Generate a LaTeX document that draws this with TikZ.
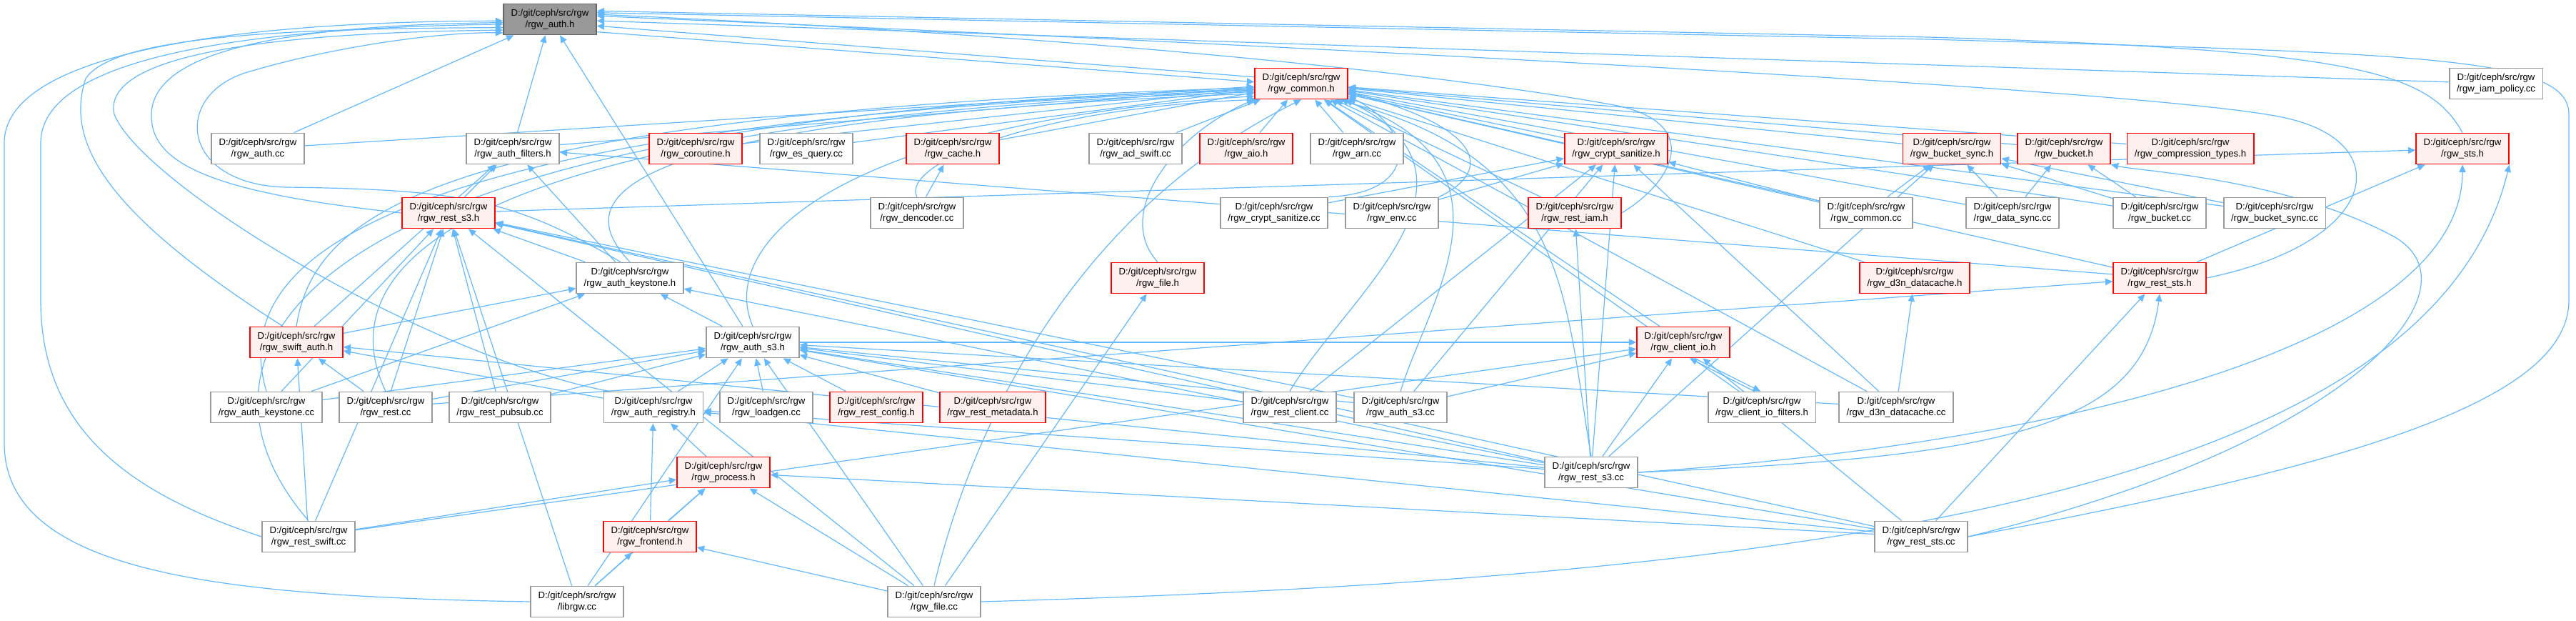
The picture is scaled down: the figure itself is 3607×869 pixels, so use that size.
\documentclass[tikz,border=0pt]{standalone}
\usepackage{fontspec}
\setmainfont{Liberation Sans}
\usetikzlibrary{arrows.meta,backgrounds}
\definecolor{DoxBlue}{HTML}{63B8FF}
\definecolor{DoxRed}{HTML}{FF0000}
\definecolor{DoxPink}{HTML}{FFF0F0}
\definecolor{DoxGray}{HTML}{999999}
\definecolor{DoxDark}{HTML}{666666}
\newcommand{\srcdir}{D:/git/ceph/src/rgw}

\begin{document}
\begin{tikzpicture}[
    x=0.25mm,y=-0.25mm,
    box/.style={draw=DoxGray,fill=white,line width=0.45mm,inner xsep=2.6mm,inner ysep=0pt,minimum height=10.75mm,align=center,font=\fontsize{9.35}{11.4}\selectfont},
    hot/.style={box,draw=DoxRed,fill=DoxPink},
    root/.style={box,draw=DoxDark,fill=DoxGray},
    incl/.style={-{Triangle[length=2.6mm,width=2.3mm]},DoxBlue,line width=0.3mm}
  ]
    \useasboundingbox (0,0) rectangle (3607,869);
    % top
    \node[root] (auth-h) at (770,27) {\srcdir\\/rgw\_auth.h};
    \node[hot] (common-h) at (1822,117) {\srcdir\\/rgw\_common.h};
    \node[box] (iam-policy-cc) at (3495,117) {\srcdir\\/rgw\_iam\_policy.cc};
    % row 2
    \node[box] (auth-cc) at (361,208) {\srcdir\\/rgw\_auth.cc};
    \node[box] (auth-filters-h) at (718,208) {\srcdir\\/rgw\_auth\_filters.h};
    \node[hot] (coroutine-h) at (974,208) {\srcdir\\/rgw\_coroutine.h};
    \node[box] (es-query-cc) at (1129,208) {\srcdir\\/rgw\_es\_query.cc};
    \node[hot] (cache-h) at (1334,208) {\srcdir\\/rgw\_cache.h};
    \node[box] (acl-swift-cc) at (1590,208) {\srcdir\\/rgw\_acl\_swift.cc};
    \node[hot] (aio-h) at (1745,208) {\srcdir\\/rgw\_aio.h};
    \node[box] (arn-cc) at (1900,208) {\srcdir\\/rgw\_arn.cc};
    \node[hot] (crypt-sanitize-h) at (2263,208) {\srcdir\\/rgw\_crypt\_sanitize.h};
    \node[hot] (bucket-sync-h) at (2733,208) {\srcdir\\/rgw\_bucket\_sync.h};
    \node[hot] (bucket-h) at (2890,208) {\srcdir\\/rgw\_bucket.h};
    \node[hot] (compression-types-h) at (3067,208) {\srcdir\\/rgw\_compression\_types.h};
    \node[hot] (sts-h) at (3448,208) {\srcdir\\/rgw\_sts.h};
    % row 3
    \node[hot] (rest-s3-h) at (628,298) {\srcdir\\/rgw\_rest\_s3.h};
    \node[box] (dencoder-cc) at (1284,298) {\srcdir\\/rgw\_dencoder.cc};
    \node[box] (crypt-sanitize-cc) at (1784,298) {\srcdir\\/rgw\_crypt\_sanitize.cc};
    \node[box] (env-cc) at (1949,298) {\srcdir\\/rgw\_env.cc};
    \node[hot] (rest-iam-h) at (2205,298) {\srcdir\\/rgw\_rest\_iam.h};
    \node[box] (common-cc) at (2613,298) {\srcdir\\/rgw\_common.cc};
    \node[box] (data-sync-cc) at (2818,298) {\srcdir\\/rgw\_data\_sync.cc};
    \node[box] (bucket-cc) at (3024,298) {\srcdir\\/rgw\_bucket.cc};
    \node[box] (bucket-sync-cc) at (3185,298) {\srcdir\\/rgw\_bucket\_sync.cc};
    % row 4
    \node[box] (auth-keystone-h) at (882,389) {\srcdir\\/rgw\_auth\_keystone.h};
    \node[hot] (file-h) at (1621,389) {\srcdir\\/rgw\_file.h};
    \node[hot] (d3n-datacache-h) at (2681,389) {\srcdir\\/rgw\_d3n\_datacache.h};
    \node[hot] (rest-sts-h) at (3024,389) {\srcdir\\/rgw\_rest\_sts.h};
    % row 5
    \node[hot] (swift-auth-h) at (415,479) {\srcdir\\/rgw\_swift\_auth.h};
    \node[box] (auth-s3-h) at (1054,479) {\srcdir\\/rgw\_auth\_s3.h};
    \node[hot] (client-io-h) at (2357,479) {\srcdir\\/rgw\_client\_io.h};
    % row 6
    \node[box] (auth-keystone-cc) at (373,570) {\srcdir\\/rgw\_auth\_keystone.cc};
    \node[box] (rest-cc) at (540,570) {\srcdir\\/rgw\_rest.cc};
    \node[box] (rest-pubsub-cc) at (700,570) {\srcdir\\/rgw\_rest\_pubsub.cc};
    \node[box] (auth-registry-h) at (915,570) {\srcdir\\/rgw\_auth\_registry.h};
    \node[box] (loadgen-cc) at (1073,570) {\srcdir\\/rgw\_loadgen.cc};
    \node[hot] (rest-config-h) at (1227,570) {\srcdir\\/rgw\_rest\_config.h};
    \node[hot] (rest-metadata-h) at (1390,570) {\srcdir\\/rgw\_rest\_metadata.h};
    \node[box] (rest-client-cc) at (1806,570) {\srcdir\\/rgw\_rest\_client.cc};
    \node[box] (auth-s3-cc) at (1961,570) {\srcdir\\/rgw\_auth\_s3.cc};
    \node[box] (client-io-filters-h) at (2467,570) {\srcdir\\/rgw\_client\_io\_filters.h};
    \node[box] (d3n-datacache-cc) at (2655,570) {\srcdir\\/rgw\_d3n\_datacache.cc};
    % rows 7 to 9
    \node[hot] (process-h) at (1013,661) {\srcdir\\/rgw\_process.h};
    \node[box] (rest-s3-cc) at (2228,661) {\srcdir\\/rgw\_rest\_s3.cc};
    \node[box] (rest-swift-cc) at (432,751) {\srcdir\\/rgw\_rest\_swift.cc};
    \node[hot] (frontend-h) at (910,751) {\srcdir\\/rgw\_frontend.h};
    \node[box] (rest-sts-cc) at (2690,751) {\srcdir\\/rgw\_rest\_sts.cc};
    \node[box] (librgw-cc) at (808,842) {\srcdir\\/librgw.cc};
    \node[box] (file-cc) at (1308,842) {\srcdir\\/rgw\_file.cc};

    \begin{scope}[on background layer]
    % straight includes
    \foreach \a/\b in {auth-cc/auth-h, auth-filters-h/auth-h, auth-s3-h/auth-h, iam-policy-cc/auth-h,
        auth-cc/common-h, auth-filters-h/common-h, coroutine-h/common-h, es-query-cc/common-h,
        cache-h/common-h, acl-swift-cc/common-h, aio-h/common-h, arn-cc/common-h,
        crypt-sanitize-h/common-h, common-cc/common-h,
        bucket-sync-h/common-h, bucket-h/common-h, compression-types-h/common-h, data-sync-cc/common-h,
        bucket-cc/common-h, bucket-sync-cc/common-h, d3n-datacache-h/common-h,
        client-io-h/common-h, rest-iam-h/common-h, rest-sts-h/common-h,
        d3n-datacache-cc/common-h, client-io-filters-h/common-h,
        rest-s3-h/auth-filters-h, swift-auth-h/auth-filters-h, auth-keystone-h/auth-filters-h,
        rest-sts-h/auth-filters-h,
        auth-keystone-h/rest-s3-h, auth-keystone-cc/rest-s3-h, rest-cc/rest-s3-h, rest-pubsub-cc/rest-s3-h,
        rest-s3-cc/rest-s3-h, rest-sts-cc/rest-s3-h, librgw-cc/rest-s3-h, rest-swift-cc/rest-s3-h,
        file-cc/rest-s3-h, auth-s3-cc/rest-s3-h, rest-s3-h/sts-h,
        swift-auth-h/auth-keystone-h, auth-keystone-cc/auth-keystone-h, auth-s3-h/auth-keystone-h,
        rest-s3-cc/auth-keystone-h,
        rest-cc/swift-auth-h, auth-registry-h/swift-auth-h, rest-s3-cc/swift-auth-h, rest-swift-cc/swift-auth-h,
        auth-registry-h/auth-s3-h, loadgen-cc/auth-s3-h, rest-config-h/auth-s3-h, rest-metadata-h/auth-s3-h,
        rest-client-cc/auth-s3-h, auth-s3-cc/auth-s3-h, rest-s3-cc/auth-s3-h, rest-cc/auth-s3-h,
        rest-pubsub-cc/auth-s3-h, auth-keystone-cc/auth-s3-h, file-cc/auth-s3-h, d3n-datacache-cc/auth-s3-h,
        rest-sts-cc/auth-s3-h, librgw-cc/auth-s3-h,
        auth-s3-h/client-io-h, auth-s3-cc/client-io-h, rest-swift-cc/client-io-h, rest-s3-cc/client-io-h,
        rest-sts-cc/client-io-h,
        d3n-datacache-cc/d3n-datacache-h, rest-s3-cc/rest-iam-h,
        crypt-sanitize-cc/crypt-sanitize-h, env-cc/crypt-sanitize-h, rest-client-cc/crypt-sanitize-h,
        auth-s3-cc/crypt-sanitize-h, rest-s3-cc/crypt-sanitize-h, d3n-datacache-cc/crypt-sanitize-h,
        common-cc/crypt-sanitize-h,
        data-sync-cc/bucket-sync-h, bucket-cc/bucket-sync-h, bucket-sync-cc/bucket-sync-h,
        common-cc/bucket-sync-h, rest-s3-cc/bucket-sync-h,
        data-sync-cc/bucket-h, bucket-cc/bucket-h,
        rest-sts-h/sts-h, rest-sts-cc/rest-sts-h, rest-cc/rest-sts-h,
        file-cc/file-h, librgw-cc/frontend-h, file-cc/frontend-h,
        frontend-h/process-h, librgw-cc/process-h, file-cc/process-h, rest-swift-cc/process-h,
        rest-sts-cc/process-h,
        process-h/auth-registry-h, frontend-h/auth-registry-h, rest-s3-cc/auth-registry-h,
        rest-sts-cc/auth-registry-h, dencoder-cc/cache-h}
      \draw[incl] (\a) -- (\b);
    % pairs both ways
    \draw[incl] (common-h.172) -- (auth-h.352);
    \draw[incl] (auth-h.345) -- (common-h.178);
    \draw[incl] (client-io-filters-h.115) -- (client-io-h.292);
    \draw[incl] (client-io-h.305) -- (client-io-filters-h.95);
    % curves into rgw_common.h from the lower left
    \draw[incl] (swift-auth-h.north) .. controls (440,300) and (600,160) .. (common-h.185);
    \draw[incl] (auth-keystone-cc.north) .. controls (330,400) and (420,175) .. (common-h.188);
    \draw[incl] (rest-cc.north) .. controls (470,400) and (560,170) .. (common-h.190);
    \draw[incl] (rest-swift-cc.north) .. controls (250,520) and (330,165) .. (common-h.187);
    \draw[incl] (auth-keystone-h.north) .. controls (820,300) and (760,170) .. (common-h.192);
    \draw[incl] (auth-s3-h.north) .. controls (1000,330) and (1200,170) .. (common-h.195);
    \draw[incl] (dencoder-cc.north) .. controls (1260,230) and (1450,150) .. (common-h.200);
    \draw[incl] (file-h.north) .. controls (1560,300) and (1640,190) .. (common-h.south west);
    % curves into rgw_common.h from the lower right
    \draw[incl] (crypt-sanitize-cc.north east) .. controls (1990,270) and (1980,180) .. (common-h.345);
    \draw[incl] (env-cc.north east) .. controls (2090,240) and (2080,180) .. (common-h.350);
    \draw[incl] (rest-client-cc.north) .. controls (1880,420) and (2110,250) .. (common-h.340);
    \draw[incl] (auth-s3-cc.north) .. controls (2000,420) and (2140,230) .. (common-h.338);
    \draw[incl] (rest-s3-cc.north) .. controls (2190,420) and (2200,220) .. (common-h.335);
    \draw[incl] (file-cc.north) .. controls (1360,600) and (1500,300) .. (common-h.south);
    % long curves round the left
    \draw[incl] (librgw-cc.west) .. controls (300,835) and (6,800) .. (6,620) -- (6,200) .. controls (6,80) and (300,30) .. (auth-h.182);
    \draw[incl] (rest-swift-cc.west) .. controls (180,690) and (57,600) .. (57,420) -- (57,200) .. controls (57,90) and (300,40) .. (auth-h.186);
    \draw[incl] (swift-auth-h.130) .. controls (150,300) and (90,200) .. (120,110) .. controls (160,50) and (400,40) .. (auth-h.190);
    \draw[incl] (auth-registry-h.160) .. controls (600,500) and (200,260) .. (160,160) .. controls (140,70) and (420,45) .. (auth-h.193);
    \draw[incl] (rest-s3-h.west) .. controls (300,270) and (210,230) .. (212,160) .. controls (214,60) and (450,35) .. (auth-h.184);
    \draw[incl] (auth-keystone-h.120) .. controls (720,280) and (650,265) .. (400,262) .. controls (250,258) and (240,130) .. (350,100) .. controls (450,70) and (600,45) .. (auth-h.196);
    % long curves round the right
    \draw[incl] (rest-sts-cc.east) .. controls (3300,650) and (3597,560) .. (3597,420) -- (3597,160) .. controls (3597,80) and (3400,75) .. (2700,55) -- (auth-h.8);
    \draw[incl] (sts-h.north) .. controls (3400,100) and (3300,70) .. (2700,52) -- (auth-h.10);
    \draw[incl] (rest-sts-h.east) .. controls (3330,340) and (3360,200) .. (3200,165) .. controls (3000,120) and (1500,50) .. (auth-h.4);
    \draw[incl] (rest-iam-h.east) .. controls (2350,250) and (2380,170) .. (2260,147) .. controls (2000,100) and (1500,50) .. (auth-h.6);
    \draw[incl] (file-cc.east) .. controls (2500,810) and (3400,700) .. (sts-h.south east);
    \draw[incl] (rest-sts-cc.east) .. controls (3300,620) and (3480,400) .. (3350,330) .. controls (3200,250) and (3000,240) .. (bucket-h.south east);
    \draw[incl] (rest-s3-cc.east) .. controls (2900,620) and (3448,480) .. (sts-h.south);
    \draw[incl] (rest-s3-cc.east) .. controls (2800,640) and (3000,600) .. (rest-sts-h.south);
    \end{scope}
  \end{tikzpicture}
\end{document}
